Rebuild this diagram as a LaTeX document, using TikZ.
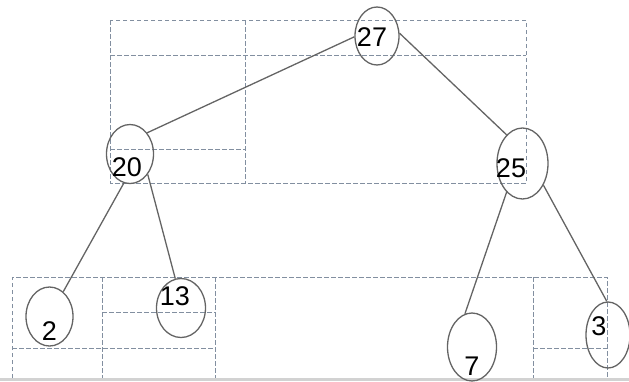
\documentclass[tikz,border=0pt]{standalone}
\usepackage{fontspec}
\setmainfont{Liberation Sans}
\usetikzlibrary{shapes.geometric}
\definecolor{gridc}{RGB}{130,143,160}
\definecolor{linec}{RGB}{100,100,100}
\tikzset{
  grid/.style={draw=gridc,line width=1pt,dash pattern=on 4.5pt off 2.5pt},
  nodeell/.style={ellipse,draw=linec,line width=1.3pt,inner sep=0pt},
  numtxt/.style={inner sep=0pt,font=\fontsize{27}{27}\selectfont},
  edge/.style={draw=linec,line width=1.3pt}
}
\begin{document}
\begin{tikzpicture}[x=1pt,y=-1pt]
\useasboundingbox (0,0) rectangle (629,381);
% bottom gray strip
\fill[gray!35] (0,378) rectangle (629,381);
% top grid
\draw[grid] (110,20) rectangle (526,183);
\draw[grid] (245,20) -- (245,183);
\draw[grid] (110,55) -- (526,55);
\draw[grid] (110,149) -- (245,149);
% bottom grid
\draw[grid] (12,378) -- (12,277) -- (607,277) -- (607,378);
\draw[grid] (102,277) -- (102,378);
\draw[grid] (215,277) -- (215,378);
\draw[grid] (533,277) -- (533,378);
\draw[grid] (102,312) -- (215,312);
\draw[grid] (12,348) -- (215,348);
\draw[grid] (533,348) -- (607,348);
% nodes
\node[nodeell,minimum width=44pt,minimum height=58pt] (n27) at (377,36) {};
\node[nodeell,minimum width=47pt,minimum height=59pt] (n20) at (130,154) {};
\node[nodeell,minimum width=51pt,minimum height=71pt] (n25) at (522.5,163.5) {};
\node[nodeell,minimum width=47pt,minimum height=59pt] (n2) at (49.5,316.5) {};
\node[nodeell,minimum width=49pt,minimum height=59pt] (n13) at (181,308) {};
\node[nodeell,minimum width=49pt,minimum height=68pt] (n7) at (472,347) {};
\node[nodeell,minimum width=44pt,minimum height=66pt] (n3) at (608,335) {};
% texts
\node[numtxt] (t27) at (372,37) {27};
\node[numtxt] (t20) at (127,167) {20};
\node[numtxt] (t25) at (511,168) {25};
\node[numtxt] (t2) at (49.5,331) {2};
\node[numtxt] (t13) at (175,296) {13};
\node[numtxt] (t7) at (472,366) {7};
\node[numtxt] (t3) at (599,326) {3};
% edges
\draw[edge] (n27.182) -- (n20.51);
\draw[edge] (n27.7) -- (n25.119);
\draw[edge] (n20.258) -- (n2.61);
\draw[edge] (n20.311) -- (n13.101);
\draw[edge] (n25.241) -- (n7.102);
\draw[edge] (n25.314) -- (n3.92);
\end{tikzpicture}
\end{document}
